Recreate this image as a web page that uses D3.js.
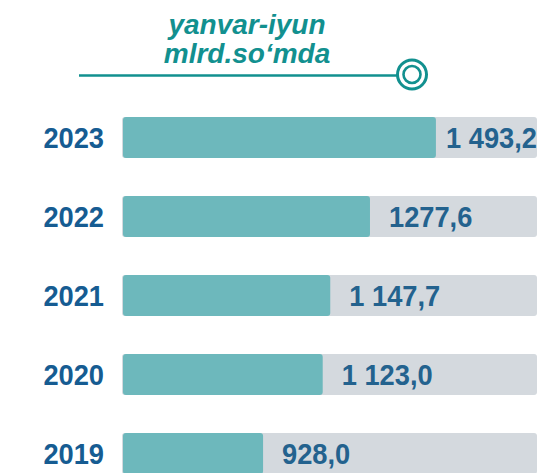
<!DOCTYPE html>
<html>
<head>
<meta charset="utf-8">
<script src="https://cdn.jsdelivr.net/npm/d3@7/dist/d3.min.js"></script>
<style>
  html, body { margin: 0; padding: 0; background: #ffffff; }
  svg { display: block; }
</style>
</head>
<body>
<svg id="chart" width="540" height="473"></svg>
<script>
// Half-year volumes, billion so'm
const years = ["2023", "2022", "2021", "2020", "2019"];
const values = [1493.2, 1277.6, 1147.7, 1123.0, 928.0];
const valueLabels = ["1 493,2", "1277,6", "1 147,7", "1 123,0", "928,0"];
const titleLines = ["yanvar-iyun", "mlrd.so‘mda"];

const svg = d3.select("#chart");
const W = 540;

const teal = "#12908f";
const barColor = "#6db8bc";
const trackColor = "#d4d9de";
const yearColor = "#165c92";
const valueColor = "#23628e";
const font = "Liberation Sans, Arial, sans-serif";
const squeeze = 0.94;   // slightly condensed figures

// Title
svg.append("g")
  .selectAll("text")
  .data(titleLines)
  .join("text")
  .attr("x", 247)
  .attr("y", (d, i) => 34 + i * 29)
  .attr("text-anchor", "middle")
  .attr("font-family", font)
  .attr("font-weight", "bold")
  .attr("font-style", "italic")
  .attr("font-size", 28)
  .attr("fill", teal)
  .text(d => d);

// Underline with double ring marker
svg.append("line")
  .attr("x1", 79).attr("x2", 398)
  .attr("y1", 75.5).attr("y2", 75.5)
  .attr("stroke", teal).attr("stroke-width", 2.6);
svg.append("circle")
  .attr("cx", 412).attr("cy", 74.5).attr("r", 14.5)
  .attr("fill", "#fff").attr("stroke", teal).attr("stroke-width", 3);
svg.append("circle")
  .attr("cx", 412).attr("cy", 74.5).attr("r", 8.5)
  .attr("fill", "#fff").attr("stroke", teal).attr("stroke-width", 2.6);

// Scales
const y = d3.scaleBand()
  .domain(years)
  .range([117, 474])
  .paddingInner(0.481)
  .paddingOuter(0);

const x = d3.scaleLinear()
  .domain([470, 1500])
  .range([123, 438]);

const trackX0 = 122, trackX1 = 537;

const rows = svg.append("g")
  .selectAll("g")
  .data(years.map((yr, i) => ({ yr, v: values[i], label: valueLabels[i] })))
  .join("g");

// Background tracks
rows.append("rect")
  .attr("x", trackX0)
  .attr("y", d => y(d.yr))
  .attr("width", trackX1 - trackX0)
  .attr("height", y.bandwidth())
  .attr("rx", 3)
  .attr("fill", trackColor);

// Value bars
rows.append("rect")
  .attr("x", x.range()[0])
  .attr("y", d => y(d.yr))
  .attr("width", d => x(d.v) - x.range()[0])
  .attr("height", y.bandwidth())
  .attr("rx", 3)
  .attr("fill", barColor);

// Year labels
rows.append("text")
  .attr("transform", d => `translate(104,${y(d.yr) + y.bandwidth() / 2 + 10.5}) scale(${squeeze},1)`)
  .attr("text-anchor", "end")
  .attr("font-family", font)
  .attr("font-weight", "bold")
  .attr("font-size", 29)
  .attr("fill", yearColor)
  .text(d => d.yr);

// Value labels, placed after the bar end and kept inside the track
rows.append("text")
  .attr("font-family", font)
  .attr("font-weight", "bold")
  .attr("font-size", 29)
  .attr("fill", valueColor)
  .text(d => d.label)
  .each(function(d) {
    const w = this.getComputedTextLength() * squeeze;
    const xs = Math.min(x(d.v) + 19, W - 3 - w);
    d3.select(this).attr("transform",
      `translate(${xs},${y(d.yr) + y.bandwidth() / 2 + 10.5}) scale(${squeeze},1)`);
  });
</script>
</body>
</html>
